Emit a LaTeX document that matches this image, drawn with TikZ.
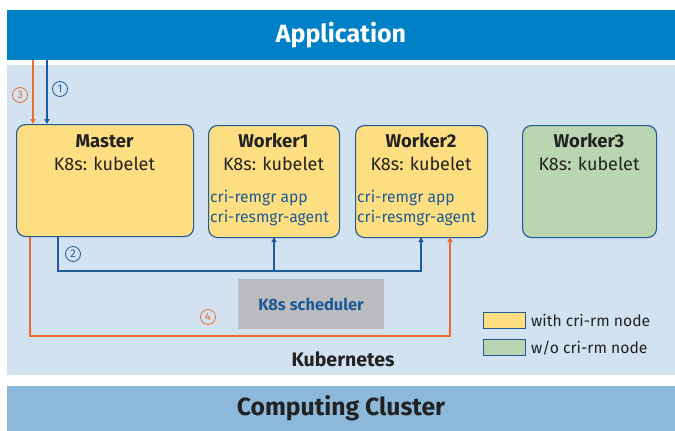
\documentclass[tikz,border=0pt]{standalone}
\usepackage{fontspec}
\setmainfont{Fira Sans}
\usetikzlibrary{arrows.meta}
\definecolor{appblue}{HTML}{0080C6}
\definecolor{k8sbg}{HTML}{D2E2F1}
\definecolor{clusterbg}{HTML}{8CB8DA}
\definecolor{nodeyellow}{HTML}{FDDE80}
\definecolor{nodegreen}{HTML}{BAD6B1}
\definecolor{darkblue}{HTML}{1D5A96}
\definecolor{flowblue}{HTML}{1D5A96}
\definecolor{floworange}{HTML}{EE6B2F}
\definecolor{txtdark}{HTML}{222222}
\definecolor{schedgrey}{HTML}{BBBCC0}
\tikzset{
  x=1pt,y=-1pt,
  band/.style={draw=none,inner sep=0pt,outer sep=0pt},
  k8snode/.style={draw=darkblue,line width=1.1pt,rounded corners=9pt,fill=nodeyellow,minimum width=#1,minimum height=112pt,inner sep=0pt},
  flowb/.style={draw=flowblue,line width=1.3pt,-{Triangle[length=5pt,width=5pt]}},
  flowo/.style={draw=floworange,line width=1.3pt,-{Triangle[length=5pt,width=5pt]}},
  stepnum/.style={circle,draw=#1,text=#1,line width=0.8pt,inner sep=0pt,minimum size=15pt,font=\fontsize{11}{11}\selectfont},
  ttl/.style={font=\bfseries\fontsize{18.5}{21}\selectfont,text=txtdark},
  sub/.style={font=\fontsize{18}{21}\selectfont,text=txtdark},
  cri/.style={font=\fontsize{15.7}{18}\selectfont,text=darkblue,anchor=west,inner sep=0pt},
  legbox/.style={draw=darkblue,line width=1pt,minimum width=42pt,minimum height=16pt,inner sep=0pt},
  legtxt/.style={font=\fontsize{15.7}{18}\selectfont,text=txtdark,anchor=west,inner sep=0pt}
}
\begin{document}
\begin{tikzpicture}
\useasboundingbox (0,0) rectangle (675,431);
\fill[white] (0,0) rectangle (675,431);
% bands
\node[band,fill=appblue,minimum width=668pt,minimum height=50pt,anchor=north west,
  font=\bfseries\fontsize{25}{28}\selectfont,text=white] (app) at (7,10) {Application};
\node[band,fill=k8sbg,minimum width=668pt,minimum height=310pt,anchor=north west] (k8s) at (7,65) {};
\node[band,fill=clusterbg,minimum width=668pt,minimum height=45pt,anchor=north west,
  font=\bfseries\fontsize{24.7}{28}\selectfont,text=txtdark] (cluster) at (7,386) {Computing Cluster};
\node[font=\bfseries\fontsize{19.5}{23}\selectfont,text=txtdark] (k8slbl) at (343,359) {Kubernetes};
% nodes
\node[k8snode=177pt,anchor=north west] (master) at (16,124) {};
\node[k8snode=131pt,anchor=north west] (w1) at (208,125) {};
\node[k8snode=132pt,anchor=north west] (w2) at (355,125) {};
\node[k8snode=134pt,anchor=north west,fill=nodegreen] (w3) at (522,125) {};
\node[ttl] (mt) at (104.5,141) {Master};
\node[sub] (ms) at (104.5,164) {K8s: kubelet};
\node[ttl] (w1t) at (273.5,141) {Worker1};
\node[sub] (w1s) at (273.5,164) {K8s: kubelet};
\node[cri] (w1a) at (210,198) {cri-remgr app};
\node[cri] (w1b) at (210,218) {cri-resmgr-agent};
\node[ttl] (w2t) at (421,141) {Worker2};
\node[sub] (w2s) at (421,164) {K8s: kubelet};
\node[cri] (w2a) at (357,198) {cri-remgr app};
\node[cri] (w2b) at (357,218) {cri-resmgr-agent};
\node[ttl] (w3t) at (589,141) {Worker3};
\node[sub] (w3s) at (589,164) {K8s: kubelet};
% scheduler
\node[band,fill=schedgrey,minimum width=146pt,minimum height=50pt,anchor=north west,
  font=\bfseries\fontsize{16.4}{19}\selectfont,text=darkblue] (sched) at (238,279) {K8s scheduler};
% top arrows
\coordinate (o3) at (33,60);
\coordinate (o1) at (47,60);
\draw[flowo] (o3) -- (o3 |- master.north);
\draw[flowb] (o1) -- (o1 |- master.north);
\node[stepnum=floworange] (n3) at (20,95) {3};
\node[stepnum=flowblue] (n1) at (60,89) {1};
% flow 2
\coordinate (b2) at (58,271);
\draw[flowb] (b2 |- master.south) -- (b2) -| (421,237);
\draw[flowb] (274,271) -- (274,237);
\node[stepnum=flowblue] (n2) at (73,254) {2};
% flow 4
\coordinate (b4) at (30,336);
\draw[flowo] (b4 |- master.south) -- (b4) -| (450,237);
\node[stepnum=floworange] (n4) at (208,317) {4};
% legend
\node[legbox,fill=nodeyellow,anchor=north west] (ly) at (483,312) {};
\node[legtxt] (lyt) at (531,320.5) {with cri-rm node};
\node[legbox,fill=nodegreen,anchor=north west] (lg) at (483,339) {};
\node[legtxt] (lgt) at (531,347.5) {w/o cri-rm node};
\end{tikzpicture}
\end{document}
